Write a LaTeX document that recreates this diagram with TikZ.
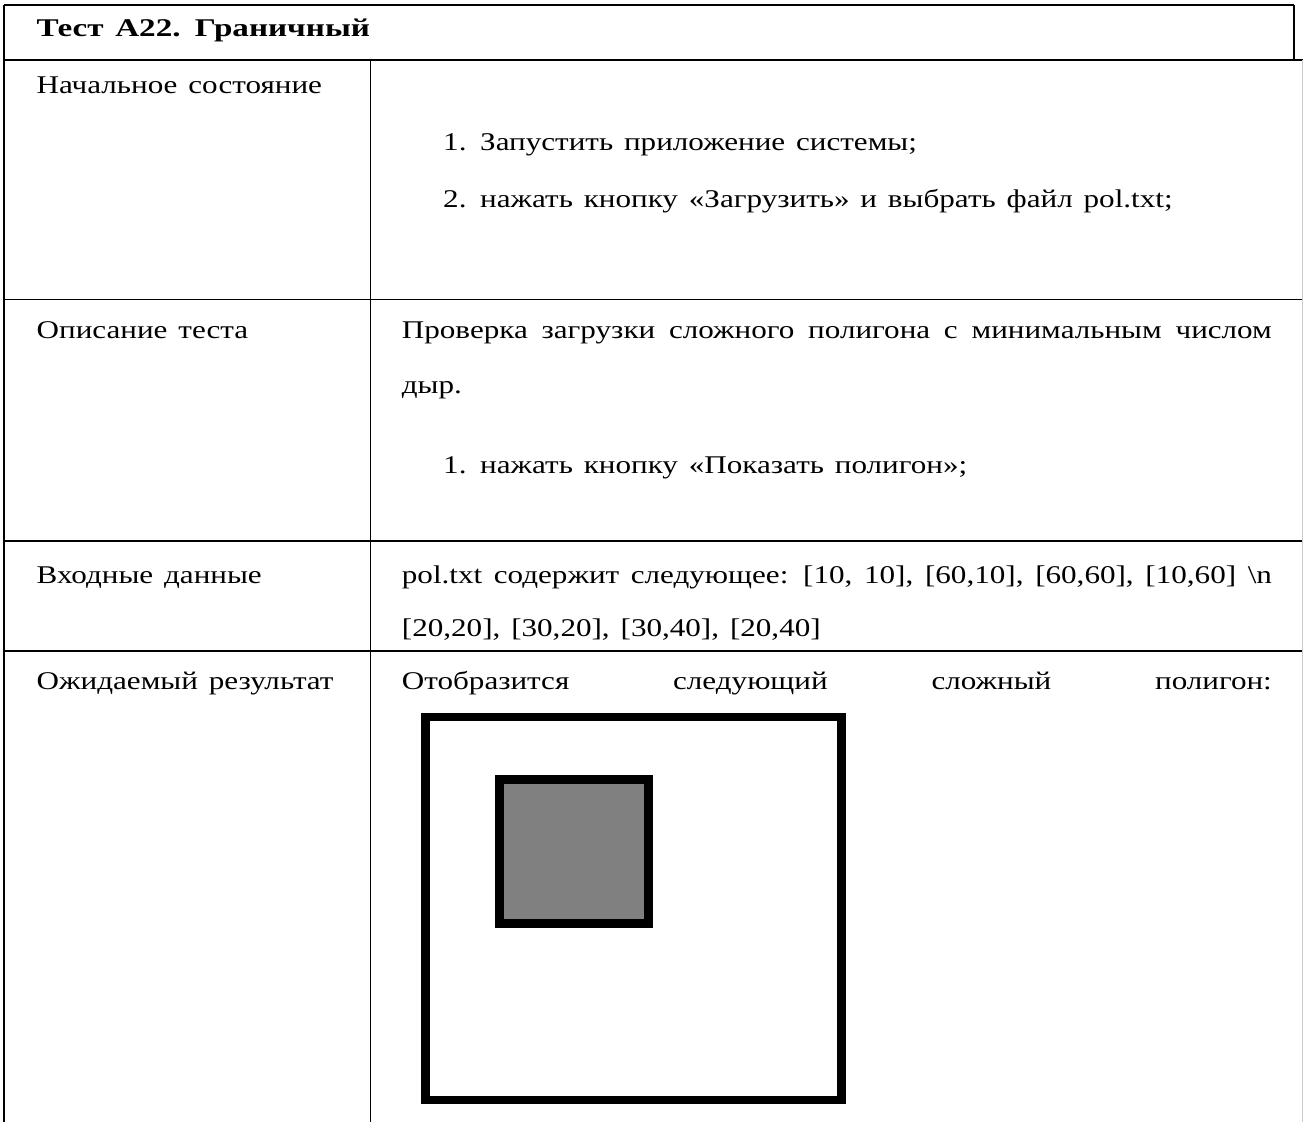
\documentclass[tikz,border=0pt]{standalone}
\usepackage{fontspec}
\setmainfont[FakeStretch=1.22, WordSpace=1.4,
  BoldFeatures={FakeStretch=1.3}]{Liberation Serif}
\begin{document}
\begin{tikzpicture}[x=1pt,y=-1pt,
  cell/.style={anchor=base west, inner sep=0pt, font=\fontsize{25.5}{30}\selectfont},
  rule/.style={line width=1.1pt, black},
  frame/.style={line width=8.6pt, black, line join=miter}]
\useasboundingbox (0,0) rectangle (1303,1122);

% table grid
\draw[rule] (4,5) -- (1294,5);
\draw[rule] (1294,5) -- (1294,60);
\draw[rule] (4,60) -- (1303,60);
\draw[rule] (4,299.5) -- (1303,299.5);
\draw[rule] (4,541) -- (1303,541);
\draw[rule] (4,651) -- (1303,651);
\draw[rule] (4,5) -- (4,1122);
\draw[rule] (370.5,60) -- (370.5,1122);
\draw[line width=0.8pt, black!20] (1302.5,60) -- (1302.5,1122);

% header
\node[cell, font=\fontsize{25.5}{30}\selectfont\bfseries] (title) at (36.5,36) {Тест А22. Граничный};

% row: initial state
\node[cell] (hInit) at (36.5,93) {Начальное состояние};
\node[cell] (n1) at (443,150) {1.};
\node[cell] (i1) at (480,150) {Запустить приложение системы;};
\node[cell] (n2) at (443,207) {2.};
\node[cell] (i2) at (480,207) {нажать кнопку «Загрузить» и выбрать файл pol.txt;};

% row: description
\node[cell] (hDesc) at (36.5,338) {Описание теста};
\node[cell] (d1) at (401.7,338) {\makebox[870pt][s]{Проверка загрузки сложного полигона с минимальным числом}};
\node[cell] (d2) at (401.7,393) {дыр.};
\node[cell] (n3) at (443,473) {1.};
\node[cell] (i3) at (480,473) {нажать кнопку «Показать полигон»;};

% row: input data
\node[cell] (hIn) at (36.5,583) {Входные данные};
\node[cell] (in1) at (401.7,583) {\makebox[870pt][s]{pol.txt содержит следующее: [10, 10], [60,10], [60,60], [10,60] \textbackslash n}};
\node[cell] (in2) at (401.7,636) {[20,20], [30,20], [30,40], [20,40]};

% row: expected result
\node[cell] (hOut) at (36.5,689) {Ожидаемый результат};
\node[cell] (out1) at (401.7,689) {\makebox[870pt][s]{Отобразится следующий сложный полигон:}};

% polygon with a hole
\draw[frame] (425.3,717) rectangle (841.7,1100);
\draw[frame, fill=black!50] (499.3,779.3) rectangle (648.7,923.7);
\end{tikzpicture}
\end{document}
